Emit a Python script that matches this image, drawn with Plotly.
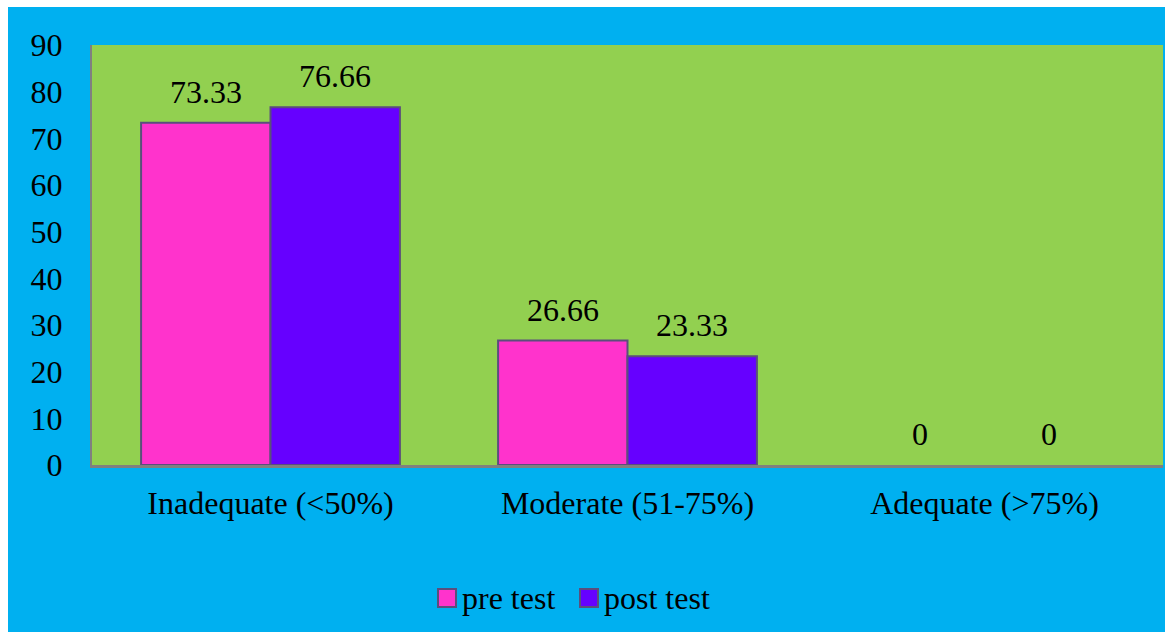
import plotly.graph_objects as go

# Knowledge levels and percentage of respondents
categories = ["Inadequate (<50%)", "Moderate (51-75%)", "Adequate (>75%)"]
pre_test = [73.33, 26.66, 0]
post_test = [76.66, 23.33, 0]
series_names = ["pre test", "post test"]
y_ticks = [0, 10, 20, 30, 40, 50, 60, 70, 80, 90]

FONT = "Liberation Serif, Times New Roman, serif"
FS = 32
BLUE = "#00B0F0"
GREEN = "#92D050"
PINK = "#FF33CC"
PURPLE = "#6600FF"
EDGE = "#5B4E7C"

BARGAP = 0.275
bar_w = (1 - BARGAP) / 2
xpos = list(range(len(categories)))

fig = go.Figure()
for name, vals, col in ((series_names[0], pre_test, PINK),
                        (series_names[1], post_test, PURPLE)):
    fig.add_trace(go.Bar(
        x=xpos, y=vals, name=name, showlegend=False,
        marker=dict(color=col,
                    line=dict(color=EDGE,
                              width=[2 if v > 0 else 0 for v in vals])),
    ))

# value labels above each bar
for series, shift in ((pre_test, -bar_w / 2), (post_test, bar_w / 2)):
    for i, v in enumerate(series):
        fig.add_annotation(
            x=i + shift, y=v, xref="x", yref="y",
            text=f"{v:g}", showarrow=False,
            yanchor="middle", yshift=31,
            font=dict(family=FONT, size=FS, color="black"),
        )

# page geometry helpers (pixel -> paper coordinates)
W, H = 1165, 632
L, R, T, B = 92, 2, 45, 167
pw, ph = W - L - R, H - T - B
px = lambda p: (p - L) / pw
py = lambda p: (H - B - p) / ph

# white strip along the top and left edges of the page
fig.add_shape(type="rect", xref="paper", yref="paper",
              x0=px(-5), x1=px(W + 5), y0=py(7), y1=py(-5),
              fillcolor="white", line_width=0, layer="above")
fig.add_shape(type="rect", xref="paper", yref="paper",
              x0=px(-5), x1=px(8), y0=py(H + 5), y1=py(-5),
              fillcolor="white", line_width=0, layer="above")

# legend: swatch + label for each series
legend_y = 598
for name, col, sx in ((series_names[0], PINK, 438), (series_names[1], PURPLE, 580)):
    fig.add_shape(type="rect", xref="paper", yref="paper",
                  x0=px(sx), x1=px(sx + 18), y0=py(legend_y + 9), y1=py(legend_y - 9),
                  fillcolor=col, line=dict(color=EDGE, width=2), layer="above")
    fig.add_annotation(x=px(sx + 22), y=py(legend_y), xref="paper", yref="paper",
                       text=name, showarrow=False, xanchor="left", yanchor="middle",
                       font=dict(family=FONT, size=FS, color="black"))

fig.update_layout(
    width=W, height=H,
    margin=dict(l=L, r=R, t=T, b=B, pad=0),
    paper_bgcolor=BLUE, plot_bgcolor=GREEN,
    barmode="group", bargap=BARGAP, bargroupgap=0,
    font=dict(family=FONT, size=FS, color="black"),
    showlegend=False,
    xaxis=dict(
        range=[-0.5, len(categories) - 0.5],
        tickvals=xpos, ticktext=categories,
        showline=True, linecolor="#808080", linewidth=3,
        showgrid=False, zeroline=False,
        ticks="outside", ticklen=0, ticklabelstandoff=8,
        tickfont=dict(family=FONT, size=FS, color="black"),
    ),
    yaxis=dict(
        range=[0, 90], tickvals=y_ticks,
        showline=True, linecolor="#808080", linewidth=2,
        showgrid=False, zeroline=False,
        ticks="outside", ticklen=0, ticklabelstandoff=21,
        tickfont=dict(family=FONT, size=FS, color="black"),
    ),
)

fig.write_html("out.html")
